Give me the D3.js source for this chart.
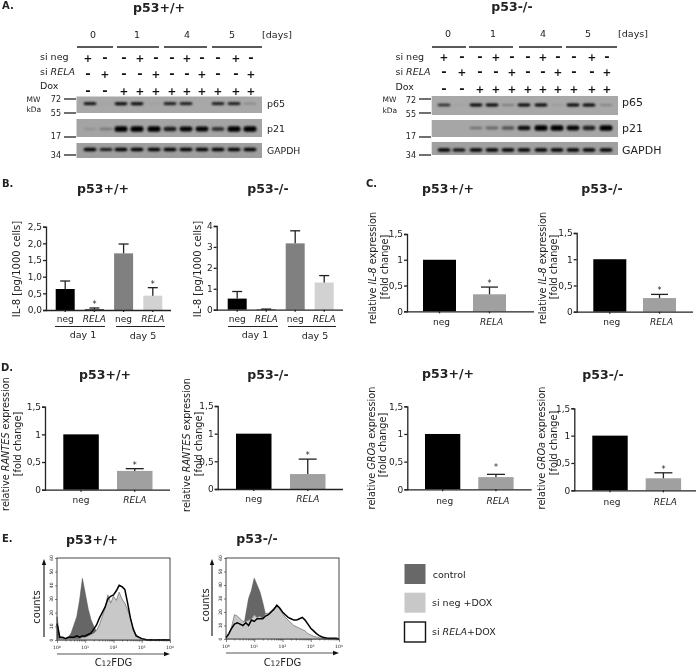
<!DOCTYPE html>
<html><head><meta charset="utf-8">
<script src="https://cdn.jsdelivr.net/npm/d3@7/dist/d3.min.js"></script>
<style>
html,body{margin:0;padding:0;background:#fff}
svg{display:block;filter:blur(0.35px)}
text{font-family:"DejaVu Sans",Verdana,sans-serif;fill:#222}
</style></head><body><svg id="c" width="700" height="668"></svg>
<script>
// ---------- DATA ----------
const dayLabels = ["0","1","4","5"];
const signNeg  = ["+","-","-","+","-","-","+","-","-","+","-"];
const signRela = ["-","+","-","-","+","-","-","+","-","-","+"];
const signDox  = ["-","-","+","+","+","+","+","+","+","+","+"];
const laneIds = [0,1,2,3,4,5,6,7,8,9,10];
const wtP65   = [.85,.03,.9,.9,.05,.8,.8,0,.8,.8,.2];
const wtP21   = [.12,.25,1,1,1,.72,.85,.85,.6,.95,.95];
const wtGapdh = [.9,.75,.95,.95,.9,.9,.9,.95,.9,.95,.95];
const koP65   = [.7,.05,.95,.95,.25,.9,.9,.1,.95,1,.2];
const koP21   = [0,0,.3,.35,.45,.8,1,1,.85,.7,.95];
const koGapdh = [.9,.85,.95,1,1,.95,.95,.9,.95,.95,1];

const catB = ["neg","RELA","neg","RELA"];
const catPair = ["neg","RELA"];
const il8WtVal = [.63,.02,1.7,.43], il8WtErr = [.87,.06,1.98,.67];
const il8KoVal = [.53,.02,3.17,1.3], il8KoErr = [.87,.03,3.77,1.63];
const il8RnaWtVal=[1,.33], il8RnaWtErr=[1,.47];
const il8RnaKoVal=[1,.26], il8RnaKoErr=[1,.33];
const rantesWtVal=[1,.34], rantesWtErr=[1,.38];
const rantesKoVal=[1,.27], rantesKoErr=[1,.54];
const groWtVal=[1,.22], groWtErr=[1,.27];
const groKoVal=[1,.22], groKoErr=[1,.32];
const ticksB1=[0,.5,1,1.5,2,2.5], ticksB1Labels=["0,0","0,5","1,0","1,5","2,0","2,5"];
const ticksB2=[0,1,2,3,4], ticksB2Labels=["0","1","2","3","4"];
const ticksFold=[0,.5,1,1.5], ticksFoldLabels=["0","0,5","1","1,5"];
const barGrays4=["#000","#000","#808080","#d2d2d2"], barGrays2=["#000","#a0a0a0"];

const decades=[0,.1,.2,.3,.4,.5,.6,.7,.8,.9,1,1.1,1.2,1.3,1.4,1.5,1.6,1.7,1.8,1.9,2,2.1,2.2,2.3,2.4,2.5,2.6,2.7,2.8,2.9,3,3.1,3.2,3.3,3.4,3.5,3.6,3.7,3.8,3.9,4];
const h1Control=[17,1,1,1,2,5,11,17,29,45,34,23,15,10,6,3,2,1,1,0,0,0,0,0,0,0,0,0,0,0,0,0,0,0,0,0,0,0,0,0,0];
const h1Neg=[1,1,1,1,1,1,1,1,1,2,2,3,4,5,7,11,17,23,33,27,32,29,35,30,27,22,16,7,4,2,1,.5,0,0,0,0,0,0,0,0,0];
const h1Rela=[12,2,2,1,2,2,2,3,2,3,3,4,5,8,11,16,20,24,30,32,33,36,40,39,37,27,16,8,3,2,1,.5,0,.2,0,0,.2,0,.2,0,0];
const h2Control=[0,1,2,3,3,3,6,18,30,36,45,40,35,27,18,8,3,1,0,0,0,0,0,0,0,0,0,0,0,0,0,0,0,0,0,0,0,0,0,0,0];
const h2Neg=[0,3,9,18,17,15,13,13,14,15,18,16,17,15,19,19,21,23,25,22,19,16,14,12,10,9,8,7,6,4,3,2,1.5,1,.5,0,0,0,0,0,0];
const h2Rela=[1,4,8,11,12,11,10,12,10,14,13,15,15,15,17,18,20,22,25,23,20,18,16,15,14,14,15,16,14,11,8,6,4,2.5,1.5,1,.5,.5,.5,.5,0];
const histYTicks=[0,10,20,30,40,50,60];
const histXMajor=[1,10,100,1000,10000];
const histExp=["0","1","2","3","4"];

const legendLabels=["control","si neg +DOX"];
const legendFills=["#686868","#c8c8c8","#fff"];

// ---------- HELPERS ----------
const svg=d3.select("#c");
const DARK="#222";
const defs=svg.append("defs");
defs.append("filter").attr("id","bandBlur").attr("x","-30%").attr("y","-100%").attr("width","160%").attr("height","300%")
  .append("feGaussianBlur").attr("stdDeviation",0.85);
function T(x,y,s,o={}){
  const t=svg.append("text").attr("x",x).attr("y",y).text(s)
    .attr("font-size",o.size||9.5).attr("text-anchor",o.anchor||"start");
  if(o.bold)t.attr("font-weight","bold");
  if(o.italic)t.attr("font-style","italic");
  return t;
}
function RT(x,y,parts,size){
  const t=svg.append("text").attr("transform",`translate(${x},${y}) rotate(-90)`)
    .attr("text-anchor","middle").attr("font-size",size||9.7);
  parts.forEach(p=>{const s=t.append("tspan").text(p[0]); if(p[1])s.attr("font-style","italic");});
}
function L(x1,y1,x2,y2,w,c){svg.append("line").attr("x1",x1).attr("y1",y1).attr("x2",x2).attr("y2",y2)
  .attr("stroke",c||DARK).attr("stroke-width",w||1.3);}

// panel letters
[["A.",2,9],["B.",2,187],["C.",366,187],["D.",1,371],["E.",2,542]].forEach(d=>T(d[1],d[2],d[0],{bold:1,size:10}));
// titles
[["p53+/+",159,12],["p53-/-",512,11],["p53+/+",103,193],["p53-/-",268,193],["p53+/+",448,193],["p53-/-",602,193],
 ["p53+/+",105,379],["p53-/-",268,379],["p53+/+",448,378],["p53-/-",603,379],["p53+/+",92,544],["p53-/-",257,543]]
 .forEach(d=>T(d[1],d[2],d[0],{bold:1,size:12.5,anchor:"middle"}));

// ---------- PANEL A ----------
function blot(cfg){
  const lane=d3.scaleOrdinal().domain(laneIds).range(cfg.lanes);
  const bandLane=d3.scaleOrdinal().domain(laneIds).range(cfg.bandLanes);
  cfg.dayX.forEach((x,i)=>T(x,cfg.dayY,dayLabels[i],{size:9.5,anchor:"middle"}));
  T(cfg.daysX,cfg.dayY,"[days]",{size:9.5,anchor:"middle"});
  cfg.rules.forEach(r=>L(r[0],47,r[1],47,1.4));
  T(cfg.lblX,cfg.rowLbl[0],"si neg",{size:9.5});
  const r=T(cfg.lblX,cfg.rowLbl[1],"si ",{size:9.5}); r.append("tspan").attr("font-style","italic").text("RELA");
  T(cfg.lblX,cfg.rowLbl[2],"Dox",{size:9.5});
  [signNeg,signRela,signDox].forEach((row,ri)=>{
    svg.append("g").selectAll("text").data(laneIds).join("text")
      .attr("x",d=>lane(d)).attr("y",cfg.signY[ri]+4).attr("text-anchor","middle")
      .attr("font-weight","bold").attr("font-size",d=>row[d]==="+"?10.5:13).style("fill","#111").text(d=>row[d]);
  });
  T(cfg.mwX,102,"MW",{size:7.5}); T(cfg.mwX,cfg.kdaY,"kDa",{size:7.5});
  cfg.mw.forEach(m=>{T(cfg.mwR,m[2],m[0],{size:8,anchor:"end"});L(cfg.tick[0],m[1],cfg.tick[1],m[1],1.3);});
  cfg.strips.forEach(st=>{
    const h=d3.scaleLinear().domain([0,1]).range([1.5,st.h]);
    svg.append("rect").attr("x",cfg.x0).attr("y",st.y0).attr("width",cfg.x1-cfg.x0).attr("height",st.y1-st.y0).attr("fill",st.bg);
    svg.append("g").attr("filter","url(#bandBlur)").selectAll("rect").data(laneIds).join("rect")
      .attr("x",d=>bandLane(d)-6.5).attr("width",13)
      .attr("y",d=>st.yc-h(st.v[d])/2).attr("height",d=>h(st.v[d]))
      .attr("rx",2.5).attr("fill","#050505").attr("opacity",d=>Math.min(1,st.v[d]*1.15));
    T(cfg.protX,st.ly,st.name,{size:st.fs});
  });
}
blot({lanes:[88,105,124,140,156,172,187,202,218,236,251],bandLanes:[90,106,121,137,154,170,186,202,218,234,250],dayX:[93,137,187,232],dayY:38,daysX:277,
  rules:[[77,113],[117,159],[164,207],[212,262]],lblX:40,rowLbl:[60,75,89],signY:[58,74,90.5],
  mwX:26.5,kdaY:112,mwR:61,tick:[64,76],
  mw:[["72",99,102],["55",113,116],["17",137,139],["34",155,158]],x0:76.5,x1:262,protX:267,
  strips:[{y0:96.5,y1:113,yc:103.7,h:3,v:wtP65,bg:"#a8a8a8",ly:107,name:"p65",fs:9.5},
          {y0:119,y1:137,yc:129,h:5.5,v:wtP21,bg:"#a4a4a4",ly:132,name:"p21",fs:9.5},
          {y0:143,y1:158,yc:149.5,h:3.5,v:wtGapdh,bg:"#9e9e9e",ly:154,name:"GAPDH",fs:9.3}]});
blot({lanes:[444,462,480,496,512,528,543,558,574,592,607],bandLanes:[444,459,476,492,508,524,541,557,573,589,606],dayX:[448,493,543,588],dayY:37,daysX:633,
  rules:[[432,466],[469,513],[519,562],[566,617]],lblX:395.5,rowLbl:[60,75,90],signY:[57,72,89],
  mwX:382.5,kdaY:113,mwR:416,tick:[419,431],
  mw:[["72",99,103],["55",113,117],["17",137,139],["34",155,158]],x0:431.7,x1:618,protX:622,
  strips:[{y0:96,y1:115,yc:105,h:3,v:koP65,bg:"#a8a8a8",ly:106,name:"p65",fs:11},
          {y0:120,y1:137,yc:128,h:5.5,v:koP21,bg:"#a6a6a6",ly:132,name:"p21",fs:11},
          {y0:142,y1:155,yc:150,h:3.5,v:koGapdh,bg:"#a0a0a0",ly:154,name:"GAPDH",fs:11}]});

// ---------- BAR PANELS ----------
function bars(c){
  const y=d3.scaleLinear().domain([0,c.ymax]).range([c.y0,c.yTop]);
  const n=c.val.length;
  const x=d3.scaleBand().domain(d3.range(n)).range([c.bar0,c.bar0+c.w+c.step*(n-1)]).paddingInner(1-c.w/c.step);
  const g=svg.append("g");
  g.selectAll("rect").data(d3.range(n)).join("rect")
    .attr("x",i=>x(i)).attr("width",x.bandwidth())
    .attr("y",i=>y(c.val[i])).attr("height",i=>y(0)-y(c.val[i])).attr("fill",i=>c.fill[i]);
  const cap=c.cap;
  const e=g.selectAll("g.e").data(d3.range(n).filter(i=>c.err[i]>c.val[i])).join("g");
  e.append("line").attr("x1",i=>x(i)+x.bandwidth()/2).attr("x2",i=>x(i)+x.bandwidth()/2)
    .attr("y1",i=>y(c.val[i])).attr("y2",i=>y(c.err[i])).attr("stroke","#222").attr("stroke-width",1.3);
  e.append("line").attr("x1",i=>x(i)+x.bandwidth()/2-cap/2).attr("x2",i=>x(i)+x.bandwidth()/2+cap/2)
    .attr("y1",i=>y(c.err[i])).attr("y2",i=>y(c.err[i])).attr("stroke","#222").attr("stroke-width",1.3);
  (c.star||[]).forEach(i=>{
    g.append("text").attr("x",x(i)+x.bandwidth()/2).attr("y",y(c.err[i])+c.starDy).attr("text-anchor","middle")
     .attr("font-size",8).text("*");
  });
  const ay=d3.axisLeft(y).tickValues(c.ticks).tickFormat((d,i)=>c.tickLabels[i]).tickSize(3).tickPadding(c.pad==null?1:c.pad);
  const ga=svg.append("g").attr("transform",`translate(${c.axisX},0)`).call(ay);
  ga.selectAll("text").attr("font-size",9).style("font-family",'"DejaVu Sans"');
  ga.selectAll("line,path").attr("stroke",DARK).attr("stroke-width",1.3);
  const ax=d3.axisBottom(x).tickFormat("").tickSize(2).tickSizeOuter(0);
  const gb=svg.append("g").attr("transform",`translate(0,${c.y0})`).call(ax);
  gb.select("path").attr("d",`M${c.axisX},0.5H${c.axisEnd}`);
  gb.selectAll("line,path").attr("stroke",DARK).attr("stroke-width",1.3);
  c.labels.forEach((s,i)=>{
    T(x(i)+x.bandwidth()/2+(c.lblDx||0),c.lblY,s,{size:9,anchor:"middle",italic:s==="RELA"});
  });
}
bars({val:il8WtVal,err:il8WtErr,fill:barGrays4,labels:catB,ymax:2.5,y0:310,yTop:226.7,bar0:55.7,step:29.2,w:19,cap:10,
  axisX:46,axisEnd:171,ticks:ticksB1,tickLabels:ticksB1Labels,lblY:322,star:[1,3],starDy:-1,pad:1});
bars({val:il8KoVal,err:il8KoErr,fill:barGrays4,labels:catB,ymax:4,y0:309.7,yTop:226,bar0:227.7,step:29,w:19,cap:10,
  axisX:216.7,axisEnd:343,ticks:ticksB2,tickLabels:ticksB2Labels,lblY:322});
[[[55,105],[116,165]],[[228,278],[288,336]]].forEach(p=>p.forEach(r=>L(r[0],326.5,r[1],326.5,1.2)));
[["day 1",83,338],["day 5",143,339],["day 1",255,338],["day 5",315,339]].forEach(d=>T(d[1],d[2],d[0],{size:9.5,anchor:"middle"}));
RT(20,269,[["IL-8 [pg/1000 cells]"]],10); RT(201,269,[["IL-8 [pg/1000 cells]"]],10);

const big={ymax:1.5,fill:barGrays2,labels:catPair,ticks:ticksFold,tickLabels:ticksFoldLabels,star:[1],starDy:-1,lblDx:2};
bars({...big,val:il8RnaWtVal,err:il8RnaWtErr,y0:311.3,yTop:234,bar0:423,step:50,w:33,cap:17,axisX:407,axisEnd:534,lblY:325});
bars({...big,val:il8RnaKoVal,err:il8RnaKoErr,y0:311.7,yTop:233,bar0:593.3,step:49.7,w:33,cap:17,axisX:576.7,axisEnd:693,lblY:325});
bars({...big,val:rantesWtVal,err:rantesWtErr,y0:489.7,yTop:406.7,bar0:63.3,step:53.7,w:35.5,cap:18,axisX:45,axisEnd:170,lblY:503,lblDx:0});
bars({...big,val:rantesKoVal,err:rantesKoErr,y0:489,yTop:406,bar0:236,step:54,w:35.5,cap:18,axisX:217.7,axisEnd:343,lblY:502,lblDx:0});
bars({...big,val:groWtVal,err:groWtErr,y0:489.3,yTop:406.3,bar0:425,step:53.3,w:35.3,cap:18,axisX:407.3,axisEnd:531.7,lblY:504,starDy:-4});
bars({...big,val:groKoVal,err:groKoErr,y0:490.3,yTop:408.3,bar0:592.3,step:53.4,w:35.4,cap:18,axisX:574.3,axisEnd:696,lblY:505});

function yl(x1,x2,cy1,cy2,g){RT(x1,cy1,[["relative "],[g,1],[" expression"]]);RT(x2,cy2,[["[fold change]"]]);}
yl(376,388,268,267,"IL-8"); yl(545.5,557,268,267,"IL-8");
yl(8.5,20.5,444,444,"RANTES"); yl(190,202,445,444,"RANTES");
yl(374.5,386,448,445,"GROa"); yl(544.5,557,448,443,"GROa");

// ---------- PANEL E ----------
function hist(c){
  const x=d3.scaleLog().domain([1,10000]).range([c.x0,c.x1]);
  const y=d3.scaleLinear().domain([0,60]).range([c.y0,c.y1]);
  const fx=i=>x(Math.pow(10,decades[i]));
  const area=v=>d3.area().x(i=>fx(i)).y0(y(0)).y1(i=>y(v[i]))(d3.range(decades.length));
  const line=v=>d3.line().x(i=>fx(i)).y(i=>y(v[i]))(d3.range(decades.length));
  svg.append("path").attr("d",area(c.control)).attr("fill","#666").attr("stroke","#555").attr("stroke-width",.6);
  svg.append("path").attr("d",area(c.neg)).attr("fill","#c8c8c8");
  svg.append("path").attr("d",line(c.neg)).attr("fill","none").attr("stroke","#777").attr("stroke-width",.8);
  svg.append("path").attr("d",line(c.rela)).attr("fill","none").attr("stroke","#000").attr("stroke-width",1.5);
  svg.append("rect").attr("x",c.x0).attr("y",c.y1).attr("width",c.x1-c.x0).attr("height",c.y0-c.y1)
    .attr("fill","none").attr("stroke","#333").attr("stroke-width",.9);
  const ax=d3.axisBottom(x).tickValues(x.ticks()).tickFormat("").tickSize(1.5).tickSizeOuter(0);
  const gx=svg.append("g").attr("transform",`translate(0,${c.y0})`).call(ax);
  gx.selectAll("line").attr("stroke","#333").attr("y2",d=>histXMajor.includes(d)?3:1.5).attr("stroke-width",.6);
  gx.select("path").remove();
  histXMajor.forEach((d,i)=>{
    const t=T(x(d),c.y0+9,"10",{size:4.5,anchor:"middle"});
    t.append("tspan").attr("font-size",3.2).attr("dy",-1.5).text(histExp[i]);
  });
  const ay=d3.axisLeft(y).tickValues(histYTicks).tickFormat("").tickSize(2).tickSizeOuter(0);
  const gy=svg.append("g").attr("transform",`translate(${c.x0},0)`).call(ay);
  gy.selectAll("line").attr("stroke","#333").attr("stroke-width",.6); gy.select("path").remove();
  histYTicks.forEach(d=>{
    svg.append("text").attr("transform",`translate(${c.x0-4},${y(d)}) rotate(-90)`).attr("text-anchor","middle")
      .attr("font-size",4.5).text(d);
  });
  // arrows
  L(c.vx,c.y0-3,c.vx,c.y1+6,1.1,"#111");
  svg.append("path").attr("d",d3.line()([[c.vx-2.2,c.y1+7],[c.vx,c.y1+1],[c.vx+2.2,c.y1+7]])).attr("fill","#111");
  L(c.x0,c.hy,c.x1-5,c.hy,1.1,"#555");
  svg.append("path").attr("d",d3.line()([[c.x1-6,c.hy-2.2],[c.x1,c.hy],[c.x1-6,c.hy+2.2]])).attr("fill","#111");
  RT(c.cx,c.cy,[["counts"]],10);
  const t=T((c.x0+c.x1)/2,666,"C",{size:10,anchor:"middle"});
  t.append("tspan").attr("font-size",7.5).text("12"); t.append("tspan").text("FDG");
}
hist({control:h1Control,neg:h1Neg,rela:h1Rela,x0:57,x1:170,y0:640,y1:558,vx:44,hy:654,cx:39.5,cy:607});
hist({control:h2Control,neg:h2Neg,rela:h2Rela,x0:226,x1:339,y0:639,y1:558,vx:212,hy:653,cx:208.5,cy:605});

// legend
const swatchY=d3.scaleOrdinal().domain([0,1,2]).range([564,592.7,622]);
svg.append("g").selectAll("rect").data([0,1,2]).join("rect")
  .attr("x",404.5).attr("width",21).attr("y",i=>swatchY(i)).attr("height",20)
  .attr("fill",i=>legendFills[i]).attr("stroke",i=>i==2?"#111":"none").attr("stroke-width",1.4);
T(432.7,578,legendLabels[0]); T(432,606,legendLabels[1]);
const lg=T(432,635,"si "); lg.append("tspan").attr("font-style","italic").text("RELA"); lg.append("tspan").text("+DOX");
</script></body></html>
